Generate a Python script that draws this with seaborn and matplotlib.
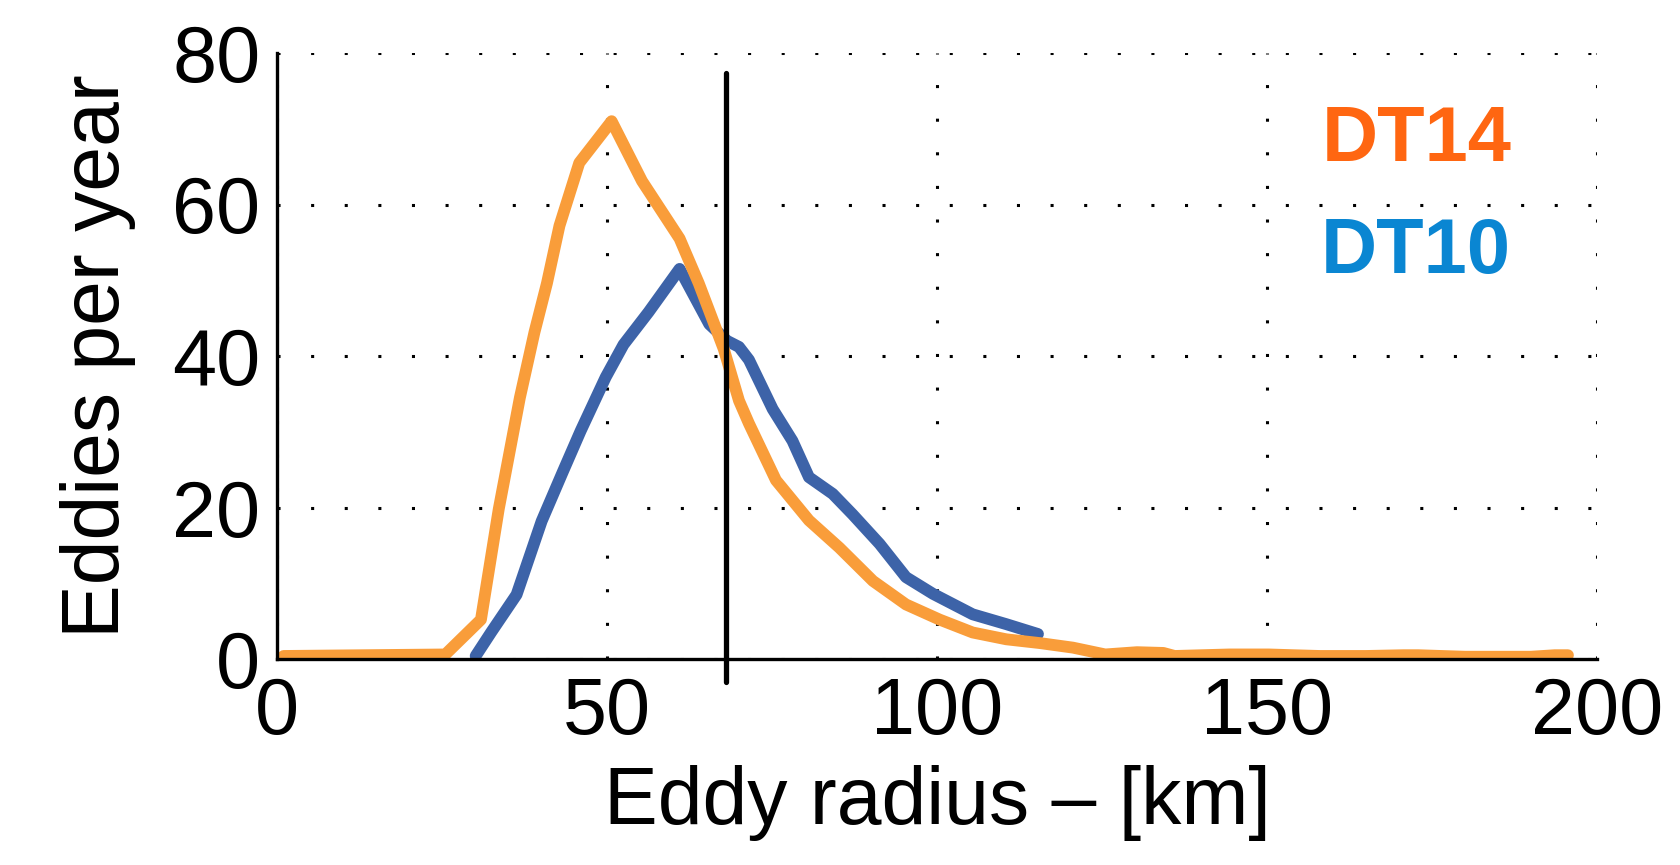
import matplotlib
matplotlib.use("Agg")
import matplotlib.pyplot as plt
import seaborn as sns
import pandas as pd

# DT14 curve (orange)
dt14_radius = [1, 25.5, 30.9, 33.6, 36.8, 39.0, 40.9, 42.8, 45.8, 50.7, 55.3, 61.0,
               63.9, 67.7, 70.0, 71.5, 75.6, 80.6, 85.2, 90.3, 95.3, 100.4, 105.4,
               110.5, 115.6, 120.6, 125.5, 130.3, 134.3, 136, 144.3, 150.3, 154,
               158, 165, 170.7, 172.9, 180, 190, 193.6, 195.6]
dt14_count = [0.4, 0.6, 5.2, 19.8, 34.5, 43.1, 49.6, 57.2, 65.5, 71.0, 63.1, 55.5,
              49.6, 40.9, 34.1, 31.1, 23.6, 18.3, 14.7, 10.3, 7.2, 5.2, 3.5,
              2.6, 2.1, 1.5, 0.6, 0.9, 0.8, 0.4, 0.6, 0.6, 0.5,
              0.4, 0.4, 0.5, 0.5, 0.3, 0.3, 0.5, 0.5]

# DT10 curve (blue)
dt10_radius = [30.1, 32.5, 36.3, 40.1, 43.3, 46.0, 49.8, 52.5, 56.3, 61.0, 65.5,
               68.2, 70.0, 71.5, 75.1, 78.1, 80.6, 84.2, 87.2, 91.3, 95.3, 99.4,
               105.4, 110.5, 115.3]
dt10_count = [0.4, 3.6, 8.5, 18.2, 24.7, 30.1, 37.2, 41.5, 45.8, 51.5, 44.2,
              42.0, 41.2, 39.5, 33.0, 28.8, 24.0, 21.8, 19.1, 15.2, 10.8, 8.6,
              5.9, 4.6, 3.3]

threshold_radius = 68
x_ticks = [0, 50, 100, 150, 200]
y_ticks = [0, 20, 40, 60, 80]

orange = "#F99D3A"
blue = "#3D63A8"

sns.set_style("white")
plt.rcParams['font.family'] = ['Liberation Sans', 'DejaVu Sans']

fig = plt.figure(figsize=(16.8, 8.65), dpi=100)
ax = fig.add_axes([277 / 1680, 206 / 865, 1320 / 1680, 606 / 865])

df14 = pd.DataFrame({'radius': dt14_radius, 'count': dt14_count})
df10 = pd.DataFrame({'radius': dt10_radius, 'count': dt10_count})

sns.lineplot(data=df14, x='radius', y='count', color=orange, linewidth=8.5,
             sort=False, ax=ax, zorder=3)
sns.lineplot(data=df10, x='radius', y='count', color=blue, linewidth=8.5,
             sort=False, ax=ax, zorder=2)

ax.plot([threshold_radius, threshold_radius], [77.3, -3], color='black',
        linewidth=3.8, clip_on=False, zorder=4)

ax.set_xlim(0, 200)
ax.set_ylim(0, 80)
ax.set_xticks(x_ticks)
ax.set_yticks(y_ticks)
ax.grid(True, color='black', linestyle=(0, (1, 10)), linewidth=2.2)

for side in ['top', 'right']:
    ax.spines[side].set_visible(False)
for side in ['left', 'bottom']:
    ax.spines[side].set_linewidth(2.4)
    ax.spines[side].set_color('black')
    ax.spines[side].set_zorder(5)

ax.tick_params(direction='in', length=9, width=2.4, labelsize=57, colors='black')
ax.tick_params(axis='y', pad=12)
ax.tick_params(axis='x', pad=12)

ax.set_xlabel('Eddy radius – [km]', fontsize=58, labelpad=10, color='black')
ax.set_ylabel('Eddies per year', fontsize=58, labelpad=26, color='black')

ax.text(0.935, 0.855, 'DT14', transform=ax.transAxes, fontsize=56,
        fontweight='bold', color='#FF6611', ha='right', va='center')
ax.text(0.935, 0.67, 'DT10', transform=ax.transAxes, fontsize=56,
        fontweight='bold', color='#0A86D2', ha='right', va='center')

fig.savefig('out.png', dpi=100)
